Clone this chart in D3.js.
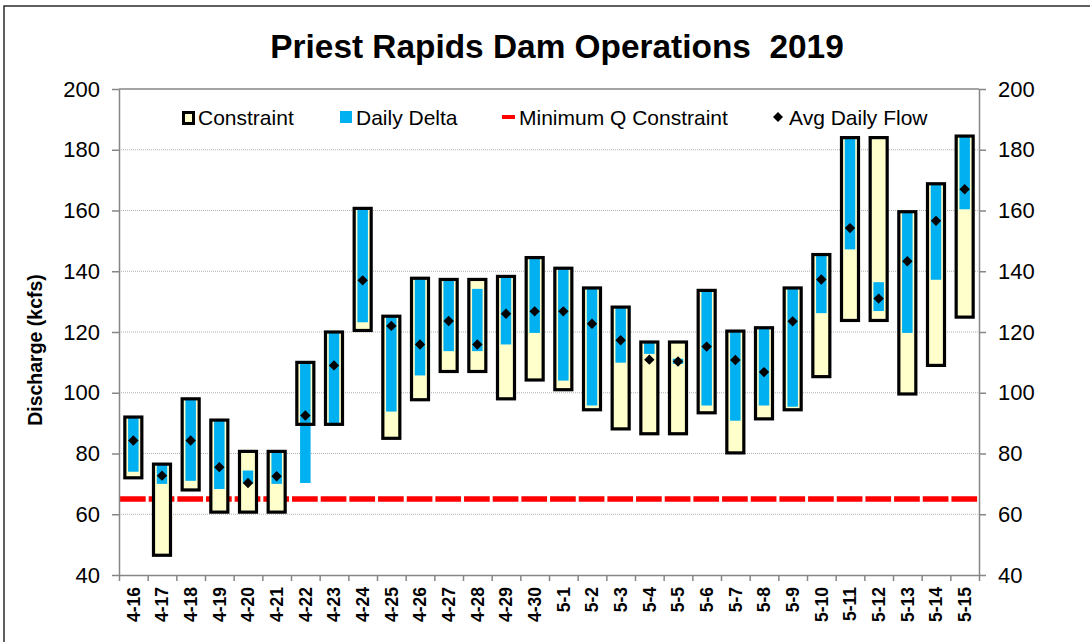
<!DOCTYPE html>
<html>
<head>
<meta charset="utf-8">
<script src="https://cdn.jsdelivr.net/npm/d3@7"></script>
<style>
  html, body { margin: 0; padding: 0; background: #ffffff; }
  svg { display: block; font-family: "Liberation Sans", Arial, sans-serif; }
</style>
</head>
<body>
<svg id="chart" width="1090" height="642"></svg>
<script>
// ---------- data (kcfs) ----------
const dates = ["4-16","4-17","4-18","4-19","4-20","4-21","4-22","4-23","4-24","4-25",
               "4-26","4-27","4-28","4-29","4-30","5-1","5-2","5-3","5-4","5-5",
               "5-6","5-7","5-8","5-9","5-10","5-11","5-12","5-13","5-14","5-15"];
const constraintLow  = [72, 46.5, 68, 60.7, 60.7, 60.7, 89.6, 89.6, 120.5, 85,
                        97.7, 107, 107, 98, 104.2, 101, 94.4, 88.1, 86.5, 86.5,
                        93.4, 80.2, 91.4, 94.4, 105.3, 123.8, 123.8, 99.6, 109, 124.9];
const constraintHigh = [92, 76.5, 98, 91, 80.7, 80.7, 110, 120, 160.7, 125.2,
                        137.7, 137.3, 137.3, 138.3, 144.5, 141, 134.5, 128.2, 116.7, 116.7,
                        133.7, 120.3, 121.4, 134.5, 145.5, 184, 184, 159.6, 168.8, 184.5];
const deltaLow       = [74, 70, 71, 68.3, 70, 70, 70.3, 90, 123.2, 93.8,
                        105.7, 113.7, 113.7, 115.9, 119.7, 104, 95.8, 109.9, 112.8, 109.5,
                        95.8, 90.8, 95.8, 95.4, 126.2, 147.2, 126.9, 119.7, 137.2, 160.4];
const deltaHigh      = [92, 76.5, 98, 91, 74.4, 80.7, 110, 120, 160.7, 125.2,
                        137.7, 137.3, 134.2, 138.3, 144.5, 141, 134.5, 128.2, 116.7, 111.2,
                        133.7, 120.3, 121.4, 134.5, 145.5, 184, 136.4, 159.6, 168.8, 184.5];
const avgFlow        = [84.3, 72.7, 84.3, 75.5, 70.3, 72.5, 92.5, 109, 137, 122,
                        115.9, 123.6, 115.9, 126, 126.8, 126.8, 122.7, 117.3, 110.9, 110.3,
                        115.2, 110.8, 106.8, 123.5, 137.3, 154.2, 131, 143.3, 156.6, 167];
const minQ = 65;
const yTicks = [40, 60, 80, 100, 120, 140, 160, 180, 200];
const titleText = "Priest Rapids Dam Operations\u00A0\u00A02019";
const yTitle = "Discharge (kcfs)";
const legendItems = ["Constraint", "Daily Delta", "Minimum Q Constraint", "Avg Daily Flow"];

// ---------- layout ----------
const L = 119, R = 979, T = 89, B = 575;
const svg = d3.select("#chart");
const YELLOW = "#FFFFCC", BLUE = "#00B0F0", RED = "#FF0000", AXIS = "#868686";

const x = d3.scaleBand().domain(dates).range([L, R]).padding(0);
const xb = d3.scaleLinear().domain([0, dates.length]).range([L, R]);
const y = d3.scaleLinear().domain([40, 200]).range([B, T]);

// outer frame
svg.append("rect").attr("x", 0).attr("y", 0).attr("width", 1090).attr("height", 642).attr("fill", "#fff");
svg.append("path").attr("d", `M4,642 L4,6 L1090,6`).attr("fill", "none")
   .attr("stroke", "#2b2b2b").attr("stroke-width", 1.5);

// title
svg.append("text").attr("x", 557).attr("y", 57.5).attr("text-anchor", "middle")
   .attr("font-size", 33.4).attr("font-weight", "bold").attr("fill", "#000").text(titleText);

// gridlines
svg.append("g").selectAll("line").data(yTicks.filter(v => v > 40 && v < 200)).join("line")
   .attr("x1", L).attr("x2", R).attr("y1", d => y(d)).attr("y2", d => y(d))
   .attr("stroke", "#b0b0b0").attr("stroke-width", 1).attr("stroke-dasharray", "1,1");

// plot top border
svg.append("line").attr("x1", L).attr("x2", R).attr("y1", T).attr("y2", T)
   .attr("stroke", AXIS).attr("stroke-width", 1.5);

// red dashed minimum Q line
svg.append("line").attr("x1", L + 1).attr("x2", R - 1).attr("y1", y(minQ)).attr("y2", y(minQ))
   .attr("stroke", RED).attr("stroke-width", 5.5).attr("stroke-dasharray", "25.7,2.97");

const cw = 17, bw = 10.5;
const idx = d3.range(dates.length);

// constraint fill
svg.append("g").selectAll("rect").data(idx).join("rect")
   .attr("x", i => x(dates[i]) + x.bandwidth() / 2 - cw / 2)
   .attr("width", cw)
   .attr("y", i => y(constraintHigh[i]))
   .attr("height", i => y(constraintLow[i]) - y(constraintHigh[i]))
   .attr("fill", YELLOW);

// daily delta
svg.append("g").selectAll("rect").data(idx).join("rect")
   .attr("x", i => x(dates[i]) + x.bandwidth() / 2 - bw / 2)
   .attr("width", bw)
   .attr("y", i => y(deltaHigh[i]))
   .attr("height", i => y(deltaLow[i]) - y(deltaHigh[i]))
   .attr("fill", BLUE);

// constraint outline
svg.append("g").selectAll("rect").data(idx).join("rect")
   .attr("x", i => x(dates[i]) + x.bandwidth() / 2 - cw / 2)
   .attr("width", cw)
   .attr("y", i => y(constraintHigh[i]))
   .attr("height", i => y(constraintLow[i]) - y(constraintHigh[i]))
   .attr("fill", "none").attr("stroke", "#000").attr("stroke-width", 3.2);

// avg daily flow diamonds
const dia = s => `M0,${-s} L${s},0 L0,${s} L${-s},0 Z`;
svg.append("g").selectAll("path").data(idx).join("path")
   .attr("transform", i => `translate(${x(dates[i]) + x.bandwidth() / 2},${y(avgFlow[i])})`)
   .attr("d", dia(5.2)).attr("fill", "#000");

// axes
const styleAxis = g => {
  g.select(".domain").attr("stroke", AXIS).attr("stroke-width", 1.5);
  g.selectAll(".tick line").attr("stroke", AXIS).attr("stroke-width", 1.5);
};
const yl = svg.append("g").attr("transform", `translate(${L},0)`)
   .call(d3.axisLeft(y).tickValues(yTicks).tickSize(7).tickSizeOuter(0).tickPadding(12));
styleAxis(yl);
yl.selectAll("text").attr("font-size", 22).attr("fill", "#000").attr("font-family", "Liberation Sans, Arial, sans-serif");

const yr = svg.append("g").attr("transform", `translate(${R},0)`)
   .call(d3.axisRight(y).tickValues(yTicks).tickSize(7).tickSizeOuter(0).tickPadding(12));
styleAxis(yr);
yr.selectAll("text").attr("font-size", 22).attr("fill", "#000").attr("font-family", "Liberation Sans, Arial, sans-serif");

// x boundary ticks
const xt = svg.append("g").attr("transform", `translate(0,${B})`)
   .call(d3.axisBottom(xb).tickValues(d3.range(0, dates.length + 1)).tickSize(6).tickSizeOuter(0).tickFormat(""));
styleAxis(xt);

// x labels
const xl = svg.append("g").attr("transform", `translate(0,${B})`)
   .call(d3.axisBottom(x).tickSize(0).tickSizeOuter(0));
xl.select(".domain").remove();
xl.selectAll("text")
  .attr("transform", "rotate(-90)").attr("x", -12).attr("y", 0).attr("dy", "0.36em")
  .style("text-anchor", "end").attr("font-size", 17.5).attr("font-weight", "bold")
  .attr("fill", "#000").attr("font-family", "Liberation Sans, Arial, sans-serif");

// y title
svg.append("text").attr("transform", "translate(41.5,350) rotate(-90)")
   .attr("text-anchor", "middle").attr("font-size", 19.5).attr("font-weight", "bold")
   .attr("fill", "#000").text(yTitle);

// legend
const lg = svg.append("g").attr("font-size", 21).attr("fill", "#000");
lg.append("rect").attr("x", 183.5).attr("y", 112.5).attr("width", 10).attr("height", 11)
  .attr("fill", YELLOW).attr("stroke", "#000").attr("stroke-width", 3);
lg.append("text").attr("x", 198).attr("y", 125).text(legendItems[0]);
lg.append("rect").attr("x", 340).attr("y", 111).attr("width", 12).attr("height", 12).attr("fill", BLUE);
lg.append("text").attr("x", 356).attr("y", 125).text(legendItems[1]);
lg.append("line").attr("x1", 502).attr("x2", 515).attr("y1", 117).attr("y2", 117)
  .attr("stroke", RED).attr("stroke-width", 4);
lg.append("text").attr("x", 519).attr("y", 125).text(legendItems[2]);
lg.append("path").attr("transform", "translate(778,117)").attr("d", dia(5)).attr("fill", "#000");
lg.append("text").attr("x", 789).attr("y", 125).text(legendItems[3]);
</script>
</body>
</html>
